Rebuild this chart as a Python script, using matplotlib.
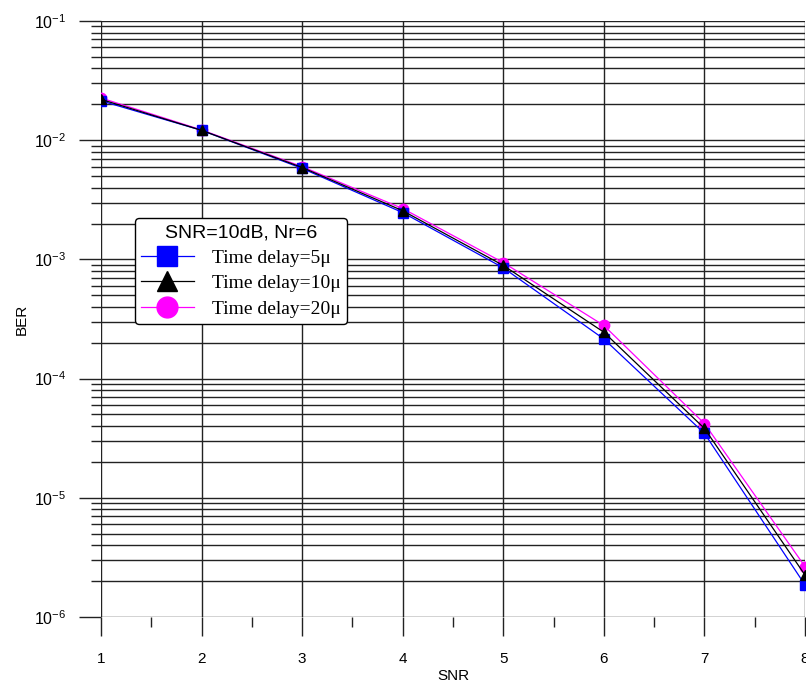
import matplotlib
matplotlib.use("Agg")
import matplotlib.pyplot as plt
import matplotlib.ticker as ticker
import numpy as np

snr = [1, 2, 3, 4, 5, 6, 7, 8]
ber_5us = [0.0214, 0.0121, 0.00580, 0.00247, 0.00085, 0.000215, 3.47e-5, 1.86e-6]
ber_10us = [0.0220, 0.0121, 0.00590, 0.00256, 0.00089, 0.000245, 3.82e-5, 2.25e-6]
ber_20us = [0.0226, 0.0122, 0.00600, 0.00267, 0.00094, 0.000279, 4.20e-5, 2.65e-6]

plt.rcParams['font.family'] = ['Liberation Sans', 'DejaVu Sans']
plt.rcParams['mathtext.fontset'] = 'custom'
plt.rcParams['mathtext.rm'] = 'Liberation Sans'
plt.rcParams['mathtext.it'] = 'Liberation Sans'

fig = plt.figure(figsize=(8.06, 6.81), dpi=100)
ax = fig.add_axes([101 / 806, 1 - 617 / 681, 704 / 806, 596 / 681])

ax.plot(snr, ber_5us, color="#0000ff", lw=0.9, marker="s", ms=7, label="Time delay=5\u03bc")
ax.plot(snr, ber_10us, color="k", lw=0.9, marker="^", ms=7, label="Time delay=10\u03bc")
ax.plot(snr, ber_20us, color="#ff00ff", lw=0.9, marker="o", ms=7.5, label="Time delay=20\u03bc", zorder=1.9)

ax.set_yscale("log")
ax.set_xlim(1, 8)
ax.set_ylim(1e-6, 1e-1)

ax.xaxis.set_major_locator(ticker.MultipleLocator(1))
ax.xaxis.set_minor_locator(ticker.MultipleLocator(0.5))
ax.yaxis.set_major_locator(ticker.LogLocator(base=10, numticks=10))
ax.yaxis.set_minor_locator(ticker.LogLocator(base=10, subs=np.arange(2, 10), numticks=20))
ax.yaxis.set_minor_formatter(ticker.NullFormatter())

ax.grid(which="major", axis="both", color="#222222", lw=1.0)
ax.grid(which="minor", axis="y", color="#222222", lw=1.0)

for s in ax.spines.values():
    s.set_visible(False)

ax.tick_params(axis="x", which="major", direction="out", length=14, width=1.0, labelsize=11, pad=11, color="#222222")
ax.tick_params(axis="x", which="minor", direction="out", length=7, width=1.0, color="#222222")
ax.tick_params(axis="y", which="major", direction="out", length=16, width=1.0, labelsize=11.5, pad=9, color="#222222")
ax.tick_params(axis="y", which="minor", direction="out", length=7, width=1.0, color="#222222")

ax.set_xlabel("SNR", fontsize=11, labelpad=2)
ax.set_ylabel("BER", fontsize=11, labelpad=4)

leg = ax.legend(title="SNR=10dB, Nr=6", loc="upper left", bbox_to_anchor=(0.048, 0.669),
                borderaxespad=0, fancybox=True, framealpha=1, edgecolor="k",
                prop={"family": "Liberation Serif", "size": 14}, markerscale=2.0,
                handlelength=2.7, handletextpad=0.95, labelspacing=0.4,
                borderpad=0.32)
leg.get_title().set_fontsize(14)
leg.get_frame().set_linewidth(1.0)

fig.savefig("out.png", dpi=100)
